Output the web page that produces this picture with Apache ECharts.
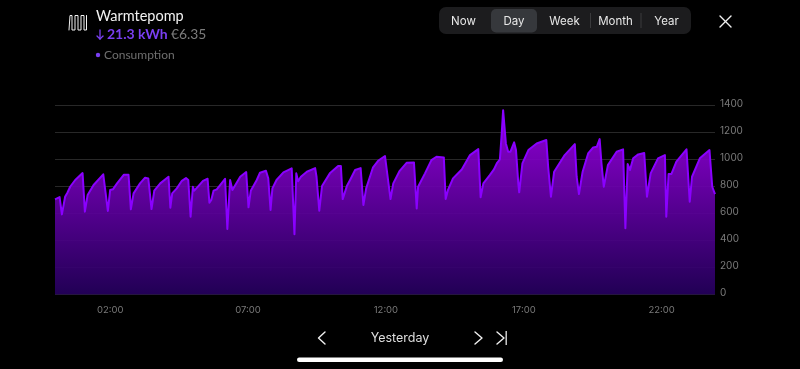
<!DOCTYPE html>
<html><head><meta charset="utf-8">
<script src="https://cdn.jsdelivr.net/npm/echarts@6/dist/echarts.min.js"></script>
<style>html,body{margin:0;padding:0;background:#000}#c{width:800px;height:369px}</style>
</head><body><div id="c"></div>
<script>
const minutes=[0,10,15,17,22,27,33,44,60,62,65,67,71,84,105,115,116,120,126,135,150,160,165,171,185,196,203,210,212,216,229,247,251,255,265,276,285,290,295,300,303,312,322,332,336,340,345,352,370,375,381,386,403,416,421,426,439,446,459,464,469,473,482,497,515,517,521,525,529,535,548,566,569,575,581,598,616,622,626,630,635,642,653,665,671,677,692,703,718,722,730,736,750,765,781,787,790,805,819,830,846,850,855,866,885,903,921,926,932,946,955,962,968,972,975,977,981,986,991,999,1003,1008,1010,1013,1017,1030,1048,1069,1073,1079,1082,1086,1109,1131,1135,1140,1142,1148,1160,1171,1179,1185,1189,1194,1198,1203,1222,1236,1241,1246,1251,1258,1269,1282,1288,1291,1296,1312,1327,1330,1335,1341,1352,1374,1377,1381,1386,1403,1424,1430,1436];
const watts=[703,720,592,592,722,752,796,846,897,897,612,612,735,809,888,617,617,772,777,821,885,885,629,747,821,863,858,631,631,767,821,870,641,747,784,840,860,846,575,796,767,801,840,855,678,698,767,777,855,484,846,772,870,905,644,767,846,900,914,858,624,784,846,902,932,932,445,895,836,870,907,934,870,619,801,895,949,949,705,705,801,846,920,934,661,784,940,988,1023,1016,705,821,914,973,976,636,796,895,993,1018,1013,705,772,858,924,1030,1074,718,821,882,924,973,998,1192,1362,1362,1116,1055,1055,1124,1067,821,755,755,969,1067,1116,1141,944,722,718,907,1030,1111,870,742,738,907,1042,1087,1092,1148,969,796,796,956,1055,1072,489,964,920,1006,1035,1045,722,712,895,1006,1030,575,890,890,981,1072,1067,685,870,1006,1067,796,742];
const xTicks=[120,420,720,1020,1320];
const yMax=1400, yStep=200;
const seriesName='Consumption';
const title='Warmtepomp', usage='21.3 kWh', cost='€6.35', period='Yesterday';
const tabs=['Now','Day','Week','Month','Year'];
const tabX=[463.5,514,564.5,615.5,666.5];

const fmt=m=>String(Math.floor(m/60)).padStart(2,'0')+':'+String(m%60).padStart(2,'0');
const uiFont='Inter, Roboto, sans-serif', headFont='Lato, sans-serif';
const txt=(x,y,text,fill,size,align,font,weight)=>({type:'text',x,y,silent:true,style:{text,fill,fontSize:size,fontFamily:font||uiFont,fontWeight:weight||400,align:align||'left',verticalAlign:'middle'}});
const stroke=(pts,color,w)=>({type:'polyline',silent:true,shape:{points:pts},style:{stroke:color,lineWidth:w,fill:null,lineCap:'round',lineJoin:'round'}});
const rect=(x,y,width,height,r,fill)=>({type:'rect',silent:true,shape:{x,y,width,height,r},style:{fill}});

const radiatorPts=[[69,30],[70,15.5],[72,15.5],[72,30],[75,30],[75,15.5],[78,15.5],[78,30],[81,30],[81,15.5],[84,15.5],[84,30],[86.5,30],[86.5,15.5]];

const graphics=[
  stroke(radiatorPts,'#f2f2f2',1),
  txt(96,16,title,'#f2f2f2',14.5,'left',headFont),
  stroke([[100,30],[100,39],[97,36]],'#7a3ff2',1.3),
  stroke([[100,39],[103,36]],'#7a3ff2',1.3),
  txt(107,34.5,usage,'#7a3ff2',14,'left',headFont,700),
  txt(171,34.5,cost,'#7c7c7c',13.8,'left',headFont),
  {type:'circle',silent:true,shape:{cx:98,cy:55,r:2.2},style:{fill:'#7a3ff2'}},
  txt(104,55.5,seriesName,'#6f6f6f',12,'left',headFont),
  rect(439,7,252,27,7,'#1c1c1e'),
  rect(491,9,46,23.5,5,'#36383c'),
  rect(590,13,1,15,0,'#3a3a3c'),
  rect(640.5,13,1,15,0,'#3a3a3c'),
  ...tabs.map((t,i)=>txt(tabX[i],22,t,'#e8e8e8',11.5,'center')),
  stroke([[720,16],[731,27]],'#f0f0f0',1.4),
  stroke([[731,16],[720,27]],'#f0f0f0',1.4),
  stroke([[325,332],[318.5,338],[325,344]],'#f0f0f0',1.4),
  stroke([[475,332],[482,338],[475,344]],'#f0f0f0',1.4),
  stroke([[497,332],[504,338],[497,344]],'#f0f0f0',1.4),
  rect(505.5,331,1.4,14,0,'#d8d8d8'),
  txt(400,338,period,'#dedede',12.5,'center'),
  rect(297,357.5,206,4.5,2.2,'#ffffff')
];

const chart=echarts.init(document.getElementById('c'),null,{renderer:'canvas'});
chart.setOption({
  animation:false,
  backgroundColor:'#000',
  graphic:graphics,
  grid:{left:55,right:85,top:105,bottom:74.5},
  xAxis:{type:'value',min:0,max:1436,
    axisLine:{show:false},splitLine:{show:false},
    axisTick:{show:false},
    axisLabel:{customValues:xTicks,formatter:v=>fmt(v),color:'#7a7a7a',fontSize:9.5,fontFamily:uiFont,margin:11}},
  yAxis:{type:'value',position:'right',min:0,max:yMax,interval:yStep,
    axisLine:{show:false},axisTick:{show:false},
    splitLine:{lineStyle:{color:'#282828',width:1}},
    axisLabel:{formatter:v=>String(v),color:'#7a7a7a',fontSize:10,fontFamily:uiFont,margin:5,align:'left',verticalAlign:'bottom',lineHeight:3}},
  series:[{name:seriesName,type:'line',data:minutes.map((m,i)=>[m,watts[i]]),
    showSymbol:false,smooth:false,
    lineStyle:{color:'#8a00ff',width:2,join:'round'},
    areaStyle:{opacity:1,color:{type:'linear',x:0,y:0,x2:0,y2:1,colorStops:[
      {offset:0,color:'rgba(158,0,232,0.92)'},{offset:1,color:'rgba(36,0,92,0.92)'}]}}}]
});
</script></body></html>
